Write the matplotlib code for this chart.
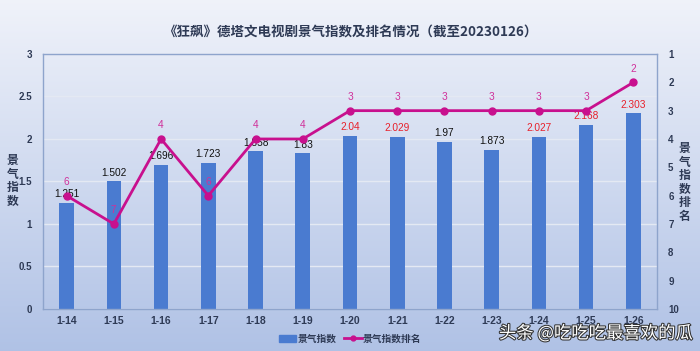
import matplotlib
matplotlib.use('Agg')
import matplotlib.pyplot as plt
import numpy as np
import matplotlib.patheffects as pe
from matplotlib.patches import Patch
from matplotlib.lines import Line2D

plt.rcParams['font.family'] = ['Noto Sans CJK SC', 'DejaVu Sans']

# data
dates = ['1-14', '1-15', '1-16', '1-17', '1-18', '1-19', '1-20',
         '1-21', '1-22', '1-23', '1-24', '1-25', '1-26']
index_vals = [1.251, 1.502, 1.696, 1.723, 1.858, 1.83, 2.04,
              2.029, 1.97, 1.873, 2.027, 2.168, 2.303]
ranks = [6, 7, 4, 6, 4, 4, 3, 3, 3, 3, 3, 3, 2]
red_labels = ['1-20', '1-21', '1-24', '1-25', '1-26']

bar_color = '#4a7bd0'
line_color = '#c8108e'
text_color = '#2e3a55'
num_font = ['Liberation Sans', 'DejaVu Sans']

fig = plt.figure(figsize=(7, 3.51), dpi=100)

# gradient background
bg = fig.add_axes([0, 0, 1, 1], zorder=-10)
grad = np.linspace(0, 1, 256).reshape(-1, 1)
top = np.array([0.94, 0.95, 0.98])
bot = np.array([0.69, 0.76, 0.90])
img = (top + (bot - top) * grad[..., None]).reshape(256, 1, 3)
bg.imshow(img, aspect='auto', extent=[0, 1, 0, 1])
bg.axis('off')

ax = fig.add_axes([0.0614, 0.1197, 0.8772, 0.7265])
ax.patch.set_alpha(0)
x = np.arange(len(dates))
ax.bar(x, index_vals, width=0.31, color=bar_color, zorder=2)
ax.set_xlim(-0.5, len(dates) - 0.5)
ax.set_ylim(0, 3)
ax.set_yticks([0, 0.5, 1, 1.5, 2, 2.5, 3])
ax.set_yticklabels(['0', '0.5', '1', '1.5', '2', '2.5', '3'])
ax.set_xticks(x)
ax.set_xticklabels(dates)
ax.grid(axis='y', color='#e4e9f3', linewidth=1, zorder=0)
for s in ax.spines.values():
    s.set_color('#8ea4cc')
    s.set_linewidth(1)
ax.tick_params(axis='y', length=0, labelsize=7, colors=text_color, pad=8)
ax.tick_params(axis='x', length=0, labelsize=7.5, colors=text_color, pad=5)
for lab in ax.get_xticklabels() + ax.get_yticklabels():
    lab.set_fontweight('bold')
    lab.set_family(num_font)

for xi, v, d in zip(x, index_vals, dates):
    c = '#e8202a' if d in red_labels else '#111111'
    ax.text(xi, v + 0.04, f'{v:g}', ha='center', va='bottom', fontsize=7.3,
            color=c, family=num_font, zorder=4)

ax2 = ax.twinx()
ax2.plot(x, ranks, color=line_color, linewidth=2, marker='o', markersize=5, zorder=5)
ax2.set_ylim(10, 1)
ax2.set_yticks(range(1, 11))
ax2.tick_params(length=0, labelsize=7, colors=text_color, pad=8)
for lab in ax2.get_yticklabels():
    lab.set_fontweight('bold')
    lab.set_family(num_font)
for s in ax2.spines.values():
    s.set_visible(False)
for xi, r in zip(x, ranks):
    ax2.text(xi, r - 0.3, str(r), ha='center', va='bottom', fontsize=7.3,
             color='#d0309a', family=num_font, zorder=6)

fig.text(0.5, 0.907, '《狂飙》德塔文电视剧景气指数及排名情况（截至20230126）',
         ha='center', va='center', fontsize=9.7, fontweight='bold', color=text_color)
fig.text(0.018, 0.485, '景\n气\n指\n数', ha='center', va='center', fontsize=8.5,
         fontweight='bold', color=text_color, linespacing=1.05)
fig.text(0.978, 0.48, '景\n气\n指\n数\n排\n名', ha='center', va='center', fontsize=8.5,
         fontweight='bold', color=text_color, linespacing=1.05)

# legend
handles = [Patch(color=bar_color, label='景气指数'),
           Line2D([0], [0], color=line_color, lw=2, marker='o', markersize=3.5, label='景气指数排名')]
leg = fig.legend(handles=handles, loc='center', bbox_to_anchor=(0.5, 0.035), ncol=2,
                 frameon=False, fontsize=7, handlelength=1.8, columnspacing=0.8,
                 handletextpad=0.1)
for t in leg.get_texts():
    t.set_color(text_color)
    t.set_fontweight('bold')

fig.text(0.99, 0.036, '头条 @吃吃吃最喜欢的瓜', ha='right', va='baseline', fontsize=12.5,
         color='white', path_effects=[pe.withStroke(linewidth=1.5, foreground='#333333')])

fig.savefig('out.png', dpi=100)
